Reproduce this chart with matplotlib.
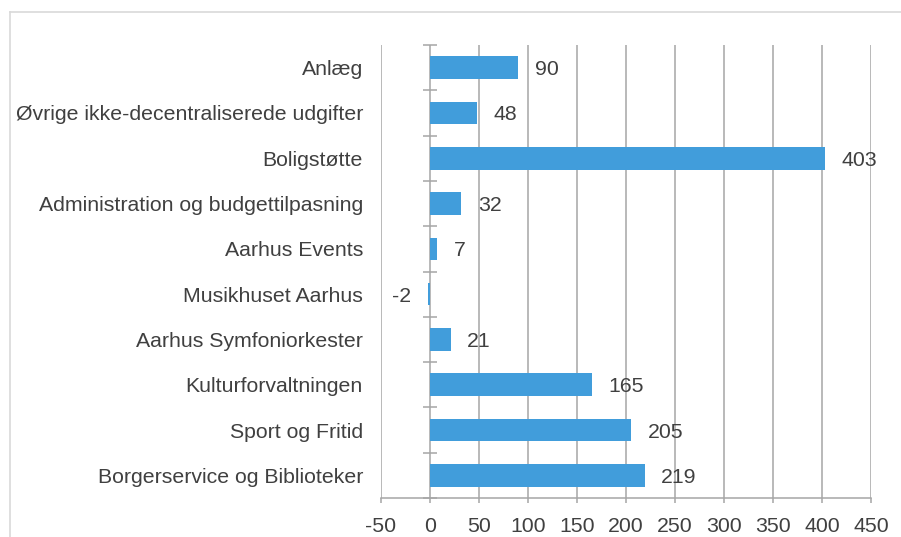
import matplotlib
matplotlib.use("Agg")
import matplotlib.pyplot as plt
from matplotlib.lines import Line2D

plt.rcParams['font.family'] = ['Liberation Sans', 'DejaVu Sans']

# data, top to bottom as in the chart
categories = ["Anlæg", "Øvrige ikke-decentraliserede udgifter", "Boligstøtte",
              "Administration og budgettilpasning", "Aarhus Events",
              "Musikhuset Aarhus", "Aarhus Symfoniorkester", "Kulturforvaltningen",
              "Sport og Fritid", "Borgerservice og Biblioteker"]
values = [90, 48, 403, 32, 7, -2, 21, 165, 205, 219]
xticks = list(range(-50, 451, 50))

txt = '#404040'
grid = '#a6a6a6'
bar_color = '#419ddb'
fs = 15.3

fig = plt.figure(figsize=(9.01, 5.37), dpi=100)
ax = fig.add_axes([381/901, 1 - 498/537, 490/901, 453/537])

# outer chart frame (only top/left visible, rest cropped)
fig.add_artist(Line2D([10/901, 1], [1 - 12/537, 1 - 12/537], color='#d9d9d9', lw=1.2))
fig.add_artist(Line2D([10/901, 10/901], [0, 1 - 12/537], color='#d9d9d9', lw=1.2))

ypos = list(range(len(categories)))
ax.barh(ypos, values, height=0.5, color=bar_color, zorder=3)

for y, v in zip(ypos, values):
    if v >= 0:
        ax.annotate(str(v), (v, y), xytext=(12, 0), textcoords='offset points',
                    ha='left', va='center_baseline', fontsize=fs, color=txt, zorder=5)
    else:
        ax.annotate(str(v), (v, y), xytext=(-12, 0), textcoords='offset points',
                    ha='right', va='center_baseline', fontsize=fs, color=txt, zorder=5)

ax.set_xlim(xticks[0], xticks[-1])
ax.set_ylim(len(categories) - 0.5, -0.5)
ax.set_xticks(xticks)
ax.set_xticklabels([str(t) for t in xticks])
ax.set_yticks(ypos)
ax.set_yticklabels(categories)

for t in xticks:
    ax.axvline(t, color=grid, lw=1.1, zorder=1)

# category boundary ticks on the zero axis
bounds = [k - 0.5 for k in range(len(categories) + 1)]
ax.plot([0] * len(bounds), bounds, linestyle='none', marker='_', markersize=9.5,
        markeredgewidth=1.1, color=grid, zorder=4, clip_on=False)

for s in ['top', 'right', 'left']:
    ax.spines[s].set_visible(False)
ax.spines['bottom'].set_color(grid)
ax.spines['bottom'].set_linewidth(1.1)

ax.tick_params(axis='y', length=0, pad=13, labelsize=fs, labelcolor=txt)
ax.tick_params(axis='x', length=3.6, width=1.1, color=grid, pad=10,
               labelsize=fs, labelcolor=txt)

fig.savefig('out.png', dpi=100)
